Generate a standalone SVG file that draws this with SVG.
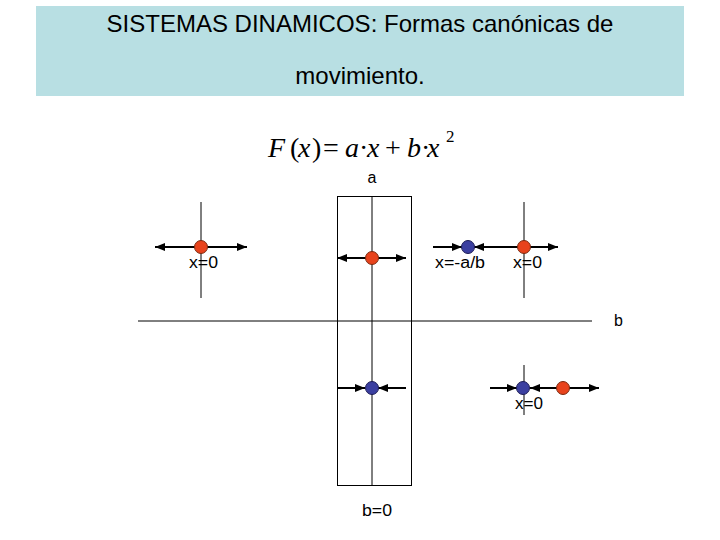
<svg xmlns="http://www.w3.org/2000/svg" width="720" height="540" viewBox="0 0 720 540">
<defs>
<style>
.lbl{font-family:"Liberation Sans",Arial,sans-serif;font-size:16px;fill:#000}
.ttl{font-family:"Liberation Sans",Arial,sans-serif;font-size:24px;fill:#000}
.fx{font-family:"Liberation Serif","Times New Roman",serif;font-size:28px;fill:#000}
.sup{font-family:"Liberation Serif","Times New Roman",serif;font-size:17px;fill:#000}
.ax{stroke:#000;stroke-width:1;fill:none}
.ar{stroke:#000;stroke-width:2;fill:none}
.red{fill:#e8431c;stroke:#7a2a10;stroke-width:1}
.blue{fill:#3b3fa0;stroke:#1c1c55;stroke-width:1}
</style>
<marker id="ah" viewBox="0 0 10 10" refX="10" refY="5" markerWidth="5" markerHeight="4" orient="auto" markerUnits="strokeWidth" preserveAspectRatio="none">
<path d="M0,0 L10,5 L0,10 z" fill="#000"/>
</marker>
</defs>
<rect x="36" y="6" width="648" height="90" fill="#b8dfe3"/>
<text class="ttl" x="360" y="32" text-anchor="middle">SISTEMAS DINAMICOS: Formas canónicas de</text>
<text class="ttl" x="360" y="84" text-anchor="middle">movimiento.</text>
<text class="fx" y="157"><tspan x="268" font-style="italic">F</tspan><tspan x="290">(</tspan><tspan x="298" font-style="italic">x</tspan><tspan x="312">)</tspan><tspan x="323">=</tspan><tspan x="345" font-style="italic">a</tspan><tspan x="359">·</tspan><tspan x="367" font-style="italic">x</tspan><tspan x="385">+</tspan><tspan x="407" font-style="italic">b</tspan><tspan x="421">·</tspan><tspan x="427" font-style="italic">x</tspan></text>
<text class="sup" x="446" y="142">2</text>
<text class="lbl" x="372" y="183" text-anchor="middle">a</text>
<g id="axes">
<rect class="ax" x="337.5" y="196.5" width="74" height="289"/>
<line class="ax" x1="372" y1="196" x2="372" y2="485"/>
<line class="ax" x1="138" y1="321" x2="592" y2="321"/>
<line class="ax" x1="201" y1="202" x2="201" y2="298"/>
<line class="ax" x1="524" y1="202" x2="524" y2="298"/>
<line class="ax" x1="524" y1="365" x2="524" y2="415"/>
</g>
<g id="connectors">
<line class="ar" x1="201" y1="247" x2="155" y2="247" marker-end="url(#ah)"/>
<line class="ar" x1="201" y1="247" x2="247" y2="247" marker-end="url(#ah)"/>
<line class="ar" x1="372" y1="258" x2="337" y2="258" marker-end="url(#ah)"/>
<line class="ar" x1="372" y1="258" x2="406" y2="258" marker-end="url(#ah)"/>
<line class="ar" x1="433" y1="247" x2="462" y2="247" marker-end="url(#ah)"/>
<line class="ar" x1="518" y1="247" x2="474" y2="247" marker-end="url(#ah)"/>
<line class="ar" x1="524" y1="247" x2="558" y2="247" marker-end="url(#ah)"/>
<line class="ar" x1="337" y1="388" x2="365" y2="388" marker-end="url(#ah)"/>
<line class="ar" x1="406" y1="388" x2="378" y2="388" marker-end="url(#ah)"/>
<line class="ar" x1="490" y1="388" x2="517" y2="388" marker-end="url(#ah)"/>
<line class="ar" x1="563" y1="388" x2="530" y2="388" marker-end="url(#ah)"/>
<line class="ar" x1="563" y1="388" x2="599" y2="388" marker-end="url(#ah)"/>
</g>
<g id="p1"><circle class="red" cx="201" cy="247" r="6.5"/><text class="lbl" x="189" y="268" textLength="29" lengthAdjust="spacingAndGlyphs">x=0</text></g>
<g id="p2"><circle class="red" cx="372" cy="258" r="6.5"/></g>
<g id="p3"><circle class="blue" cx="468" cy="247" r="6.5"/><text class="lbl" x="435" y="268" textLength="50" lengthAdjust="spacingAndGlyphs">x=-a/b</text></g>
<g id="p4"><circle class="red" cx="524" cy="247" r="6.5"/><text class="lbl" x="513" y="268" textLength="29" lengthAdjust="spacingAndGlyphs">x=0</text></g>
<g id="p5"><circle class="blue" cx="372" cy="388" r="6.5"/></g>
<g id="p6"><circle class="blue" cx="523" cy="388" r="6.5"/><text class="lbl" x="515" y="409" textLength="28" lengthAdjust="spacingAndGlyphs">x=0</text></g>
<g id="p7"><circle class="red" cx="563" cy="388" r="6.5"/></g>
<text class="lbl" x="614" y="326">b</text>
<text class="lbl" x="362" y="516" textLength="30" lengthAdjust="spacingAndGlyphs">b=0</text>
</svg>
